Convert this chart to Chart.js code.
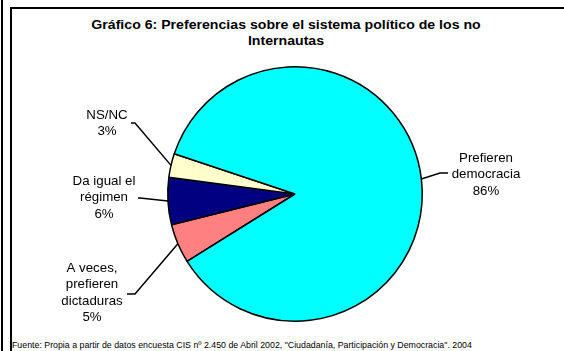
<!DOCTYPE html>
<html><head><meta charset="utf-8">
<script src="https://cdn.jsdelivr.net/npm/chart.js@4/dist/chart.umd.min.js"></script>
<style>
body{margin:0;background:#fff;width:564px;height:351px;overflow:hidden;position:relative;font-family:"Liberation Sans",Arial,sans-serif}
#c{position:absolute;left:0;top:0}
.vline{position:absolute;left:1px;top:0;width:2px;height:351px;background:#000}
.frame{position:absolute;left:10px;top:7px;width:600px;height:400px;border-left:2px solid #000;border-top:2px solid #000}
#title{position:absolute;left:86px;width:400px;top:17px;text-align:center;font-weight:bold;font-size:12.5px;line-height:16px;color:#000;transform:scaleX(1.13);transform-origin:200px 0}
#foot{position:absolute;left:12px;top:340px;font-size:8.8px;line-height:10px;white-space:nowrap;color:#000}
</style></head>
<body>
<div class="vline"></div>
<div class="frame"></div>
<div id="title">Gráfico 6: Preferencias sobre el sistema político de los no<br>Internautas</div>
<div id="foot">Fuente: Propia a partir de datos encuesta CIS nº 2.450 de Abril 2002, "Ciudadanía, Participación y Democracia". 2004</div>
<canvas id="c" width="564" height="351"></canvas>
<script>
const categories = ['A veces, prefieren dictaduras', 'Da igual el régimen', 'NS/NC', 'Prefieren democracia'];
const values = [5, 6, 3, 86];
const labelLines = [['A veces,', 'prefieren', 'dictaduras'], ['Da igual el', 'régimen'], ['NS/NC'], ['Prefieren', 'democracia']];
const colors = ['#FF8080', '#000080', '#FFFFCC', '#00FFFF'];

// label placement (layout only)
const labelLayout = [
  {tx: 92, ty: 268, elbow: [135, 294], end: [127, 294]},
  {tx: 104, ty: 181, elbow: [140, 198], end: [138, 198]},
  {tx: 107, ty: 115, elbow: [135, 123], end: [131, 123]},
  {tx: 486, ty: 158, elbow: [440, 173], end: [448, 173]}
];

const leaderPlugin = {
  id: 'leaders',
  afterDatasetsDraw(chart) {
    const ctx = chart.ctx;
    const meta = chart.getDatasetMeta(0);
    ctx.save();
    meta.data.forEach((arc, i) => {
      const p = arc.getProps(['x', 'y', 'startAngle', 'endAngle', 'outerRadius'], true);
      const mid = (p.startAngle + p.endAngle) / 2;
      const sx = p.x + Math.cos(mid) * p.outerRadius;
      const sy = p.y + Math.sin(mid) * p.outerRadius;
      const L = labelLayout[i];
      ctx.beginPath();
      ctx.strokeStyle = '#000';
      ctx.lineWidth = 1.5;
      ctx.moveTo(sx, sy);
      ctx.lineTo(L.elbow[0], L.elbow[1]);
      ctx.lineTo(L.end[0], L.end[1]);
      ctx.stroke();
      const lines = labelLines[i].concat([values[i] + '%']);
      ctx.fillStyle = '#000';
      ctx.font = '13.3px "Liberation Sans", Arial, sans-serif';
      ctx.textAlign = 'center';
      ctx.textBaseline = 'middle';
      lines.forEach((t, k) => ctx.fillText(t, L.tx, L.ty + k * 16.5));
    });
    ctx.restore();
  }
};

new Chart(document.getElementById('c'), {
  type: 'pie',
  data: {
    labels: categories,
    datasets: [{
      data: values,
      backgroundColor: colors,
      borderColor: '#000',
      borderWidth: 1.5
    }]
  },
  options: {
    responsive: false,
    devicePixelRatio: 1,
    animation: false,
    rotation: 238,
    layout: {padding: {left: 167, right: 141, top: 66, bottom: 29}},
    plugins: {legend: {display: false}, tooltip: {enabled: false}, title: {display: false}}
  },
  plugins: [leaderPlugin]
});
</script>
</body></html>
